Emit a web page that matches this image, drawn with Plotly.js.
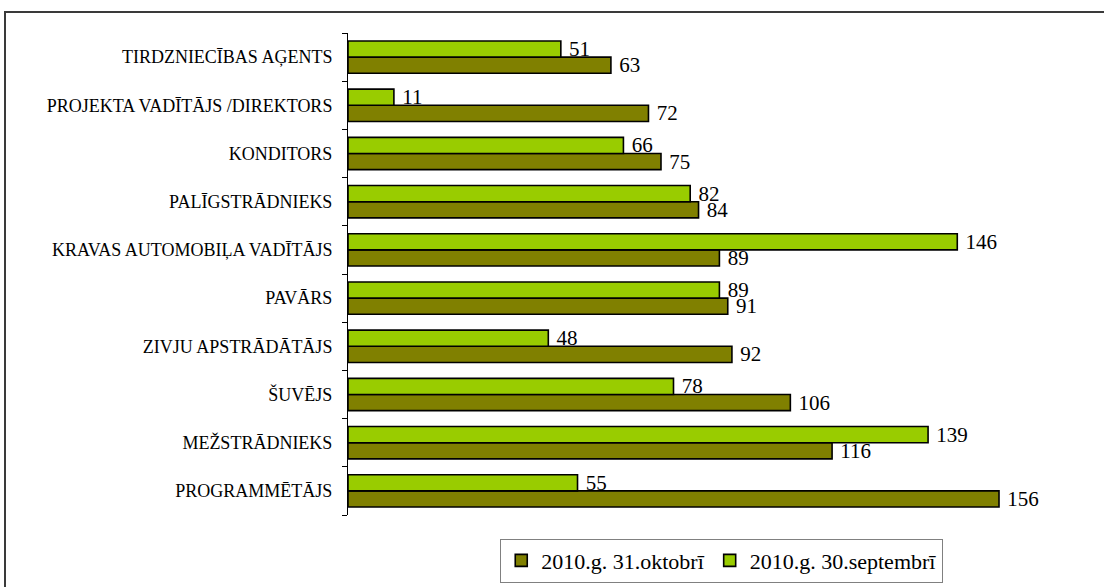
<!DOCTYPE html>
<html>
<head>
<meta charset="utf-8">
<script src="https://cdn.plot.ly/plotly-3.0.1.min.js"></script>
<style>
  body { margin: 0; background: #fff; overflow: hidden; }
  #frame { position: absolute; left: 4px; top: 11px; width: 1200px; height: 700px; border: 2px solid #3a3a3a; border-right: none; border-bottom: none; }
  #chart { position: absolute; left: 0; top: 0; width: 1104px; height: 587px; }
</style>
</head>
<body>
<div id="frame"></div>
<div id="chart"></div>
<script>
// categories top to bottom as in the picture
const categories = [
  'TIRDZNIECĪBAS AĢENTS',
  'PROJEKTA VADĪTĀJS /DIREKTORS',
  'KONDITORS',
  'PALĪGSTRĀDNIEKS',
  'KRAVAS AUTOMOBIĻA VADĪTĀJS',
  'PAVĀRS',
  'ZIVJU APSTRĀDĀTĀJS',
  'ŠUVĒJS',
  'MEŽSTRĀDNIEKS',
  'PROGRAMMĒTĀJS'
];
const october = [63, 72, 75, 84, 89, 91, 92, 106, 116, 156];
const september = [51, 11, 66, 82, 146, 89, 48, 78, 139, 55];
const seriesNames = ['2010.g. 31.oktobrī', '2010.g. 30.septembrī'];

const serif = 'Liberation Serif';

const barTrace = (name, values, color) => ({
  type: 'bar',
  orientation: 'h',
  name: name,
  y: categories,
  x: values,
  texttemplate: '\u00A0%{x}',
  textposition: 'outside',
  constraintext: 'none',
  cliponaxis: false,
  textfont: { family: serif, size: 21, color: '#000' },
  marker: { color: color, line: { color: '#000', width: 1.6 } },
  hoverinfo: 'x+y'
});

const data = [
  barTrace(seriesNames[0], october, '#808000'),
  barTrace(seriesNames[1], september, '#99CC00')
];

const layout = {
  width: 1104,
  height: 587,
  margin: { l: 348, r: 4, t: 33, b: 67 },
  paper_bgcolor: 'rgba(0,0,0,0)',
  plot_bgcolor: 'rgba(0,0,0,0)',
  barmode: 'group',
  bargap: 0.33,
  bargroupgap: 0,
  showlegend: true,
  font: { family: serif, color: '#000' },
  xaxis: {
    range: [0, 180.2],
    showgrid: false,
    zeroline: false,
    showline: false,
    showticklabels: false,
    ticks: ''
  },
  yaxis: {
    type: 'category',
    categoryorder: 'array',
    categoryarray: categories.slice().reverse(),
    showline: true,
    linecolor: '#000',
    linewidth: 1,
    ticks: 'outside',
    tickson: 'boundaries',
    ticklen: 5,
    tickcolor: '#000',
    showgrid: false,
    zeroline: false,
    tickfont: { family: serif, size: 18, color: '#000' },
    ticklabelstandoff: 11
  },
  legend: {
    orientation: 'h',
    x: 0.497,
    xanchor: 'center',
    y: -0.049,
    yanchor: 'top',
    bordercolor: '#808080',
    borderwidth: 1,
    bgcolor: '#fff',
    font: { family: serif, size: 22, color: '#000' },
    traceorder: 'normal'
  }
};

Plotly.newPlot('chart', data, layout, { displayModeBar: false, staticPlot: true });
</script>
</body>
</html>
